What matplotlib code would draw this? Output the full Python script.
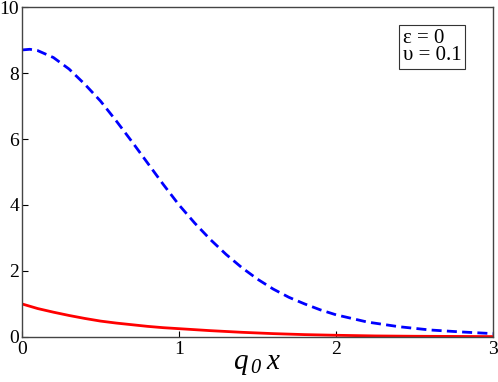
import numpy as np
import matplotlib
matplotlib.use('Agg')
import matplotlib.pyplot as plt

plt.rcParams['font.family'] = ['Liberation Serif', 'DejaVu Serif']
plt.rcParams['mathtext.fontset'] = 'custom'
plt.rcParams['mathtext.it'] = 'Liberation Serif:italic'
plt.rcParams['mathtext.rm'] = 'Liberation Serif:italic'

# values
blue_x = [0.0, 0.05, 0.1, 0.2, 0.3, 0.4, 0.5, 0.6, 0.7, 0.8, 0.9, 1.0, 1.1, 1.2, 1.3,
          1.4, 1.5, 1.6, 1.7, 1.8, 1.9, 2.0, 2.2, 2.4, 2.6, 2.8, 3.0]
blue_y = [8.70, 8.72, 8.68, 8.47, 8.12, 7.66, 7.15, 6.55, 5.92, 5.27, 4.62, 4.00, 3.45,
          2.95, 2.50, 2.10, 1.75, 1.45, 1.20, 1.00, 0.82, 0.67, 0.45, 0.31, 0.21, 0.15, 0.10]

red_x = [0.0, 0.1, 0.2, 0.3, 0.4, 0.5, 0.6, 0.7, 0.8, 0.9, 1.0, 1.2, 1.4, 1.6, 1.8,
         2.0, 2.25, 2.5, 2.75, 3.0]
red_y = [1.00, 0.86, 0.75, 0.65, 0.56, 0.48, 0.42, 0.37, 0.32, 0.28, 0.25, 0.19, 0.14,
         0.10, 0.07, 0.05, 0.03, 0.02, 0.015, 0.01]

x_ticks = [0, 1, 2, 3]
y_ticks = [0, 2, 4, 6, 8, 10]

fig = plt.figure(figsize=(4.98, 3.82), dpi=100)
ax = fig.add_axes([0.0442, 0.118, 0.946, 0.8635])

ax.plot(blue_x, blue_y, color='#0000ff', lw=2, dashes=(3.6, 1.9))
ax.plot(red_x, red_y, color='#ff0000', lw=2)

ax.set_xlim(0, 3)
ax.set_ylim(0, 10)
ax.set_xticks(x_ticks)
ax.set_yticks(y_ticks)
ax.tick_params(direction='in', length=4, width=0.8, labelsize=14,
               top=False, right=False)
ax.tick_params(axis='x', pad=3)
ax.tick_params(axis='y', pad=2)
for s in ax.spines.values():
    s.set_color('#444444')
    s.set_linewidth(1)

ax.set_xlabel(r'$q_{\,0}\;x$', fontsize=21, labelpad=-5)

ax.text(0.808, 0.935, u'\u03b5 = 0\n\u03c5 = 0.1', transform=ax.transAxes,
        fontsize=15, va='top', ha='left', linespacing=0.92,
        bbox=dict(boxstyle='square,pad=0.18', fc='white', ec='#333333', lw=0.8))

plt.savefig('out.png', dpi=100)
